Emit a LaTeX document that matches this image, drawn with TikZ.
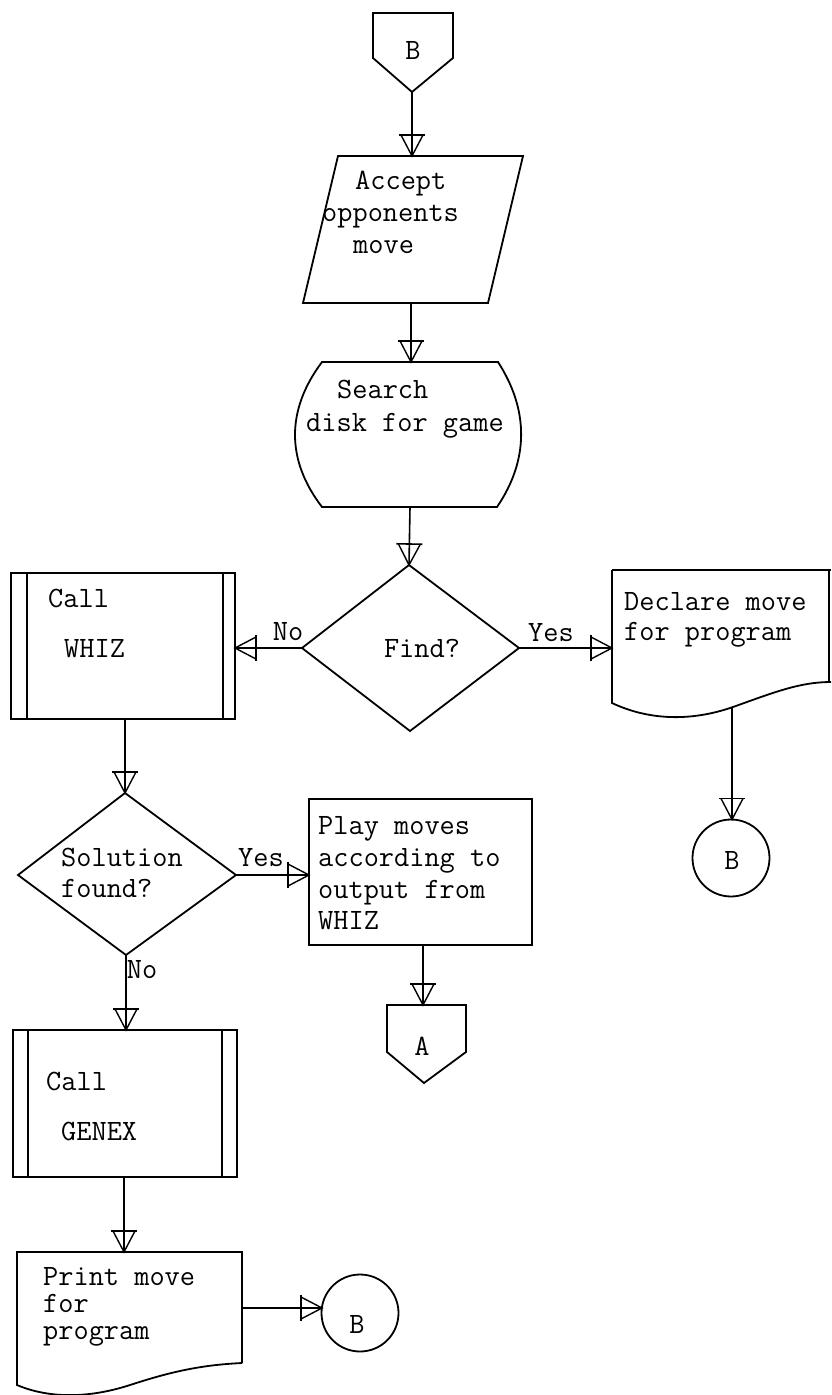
\documentclass[tikz,border=0pt]{standalone}
\usepackage{fontspec}
\usetikzlibrary{decorations.markings}
\begin{document}
\begin{tikzpicture}[x=1pt,y=-1pt,
  shp/.style={line width=1.8pt, line join=miter},
  conn/.style={line width=1.6pt,
    postaction={decorate,decoration={markings,mark=at position 1 with {
      \draw[line width=1.4pt,line join=miter] (-21pt,-11pt) -- (0pt,0pt) -- (-21pt,11pt);
      \draw[line width=1.6pt] (-21pt,-13pt) -- (-21pt,13pt);}}}},
  txt/.style={anchor=base west, inner sep=0pt, font=\fontsize{29.5}{32}\selectfont\ttfamily\addfontfeatures{FakeBold=1.2}},
  ctxt/.style={anchor=center, inner sep=0pt, font=\fontsize{29.5}{32}\selectfont\ttfamily\addfontfeatures{FakeBold=1.2}}]
\useasboundingbox (0,0) rectangle (831,1395);
\fill[white] (0,0) rectangle (831,1395);

% top off-page connector B
\draw[shp] (373,13) -- (453,13) -- (453,58) -- (412,92) -- (373,58) -- cycle;
\node[ctxt] (tB) at (413,50) {B};
\coordinate (tB-s) at (412,92);

% parallelogram
\draw[shp] (338,156) -- (523,156) -- (488,303) -- (303,303) -- cycle;
\coordinate (par-n) at (412,156);
\coordinate (par-s) at (411,303);
\node[txt] (p1) at (355,189) {Accept};
\node[txt] (p2) at (322,221) {opponents};
\node[txt] (p3) at (353,253) {move};

% search disk (curved sides)
\draw[shp] (322,362) -- (498,362) .. controls (529,410) and (529,460) .. (497,507)
  -- (322,507) .. controls (286,460) and (286,410) .. cycle;
\coordinate (srch-n) at (411,362);
\coordinate (srch-s) at (410,507);
\node[txt] (s1) at (337,398) {Search};
\node[txt] (s2) at (306,431) {disk for game};

% Find? diamond
\draw[shp] (409,565) -- (519,648) -- (410,731) -- (302,648) -- cycle;
\coordinate (fd-n) at (409,565);
\coordinate (fd-w) at (302,648);
\coordinate (fd-e) at (519,648);
\node[ctxt] (fdt) at (422,648) {Find?};
\node[ctxt] (no1) at (288,632) {No};
\node[ctxt] (yes1) at (551,633) {Yes};

% Call WHIZ
\draw[shp] (11,573) rectangle (235,719);
\draw[shp] (27,573) -- (27,719);
\draw[shp] (223,573) -- (223,719);
\coordinate (wz-e) at (235,648);
\coordinate (wz-s) at (125,719);
\node[txt] (w1) at (48,607) {Call};
\node[txt] (w2) at (64,657) {WHIZ};

% Declare move document
\draw[shp] (612,570) -- (612,703)
  .. controls (648,720) and (690,722) .. (733,707)
  .. controls (775,692) and (800,682) .. (831,682);
\draw[shp] (612,570) -- (831,570);
\draw[shp] (829,570) -- (829,682);
\coordinate (dc-w) at (612,648);
\coordinate (dc-s) at (732,708);
\node[txt] (d1) at (624,610) {Declare move};
\node[txt] (d2) at (624,640) {for program};

% circle B right
\draw[shp] (731,858) circle[radius=38.5pt];
\node[ctxt] (cB1) at (732,860) {B};
\coordinate (cB1-n) at (732,819.5);

% Solution found? diamond
\draw[shp] (125,793) -- (236,875) -- (126,955) -- (18,875) -- cycle;
\coordinate (sl-n) at (125,793);
\coordinate (sl-e) at (236,875);
\coordinate (sl-s) at (126,955);
\node[txt] (sl1) at (61,866) {Solution};
\node[txt] (sl2) at (61,897) {found?};
\node[ctxt] (yes2) at (261,858) {Yes};
\node[ctxt] (no2) at (142,970) {No};

% Play moves box
\draw[shp] (309,799) rectangle (532,945);
\coordinate (pl-w) at (309,875);
\coordinate (pl-s) at (423,945);
\node[txt] (pl1) at (318,834) {Play moves};
\node[txt] (pl2) at (318,866) {according to};
\node[txt] (pl3) at (318,898) {output from};
\node[txt] (pl4) at (318,929) {WHIZ};

% off-page connector A
\draw[shp] (387,1005) -- (466,1005) -- (466,1052) -- (424,1083) -- (387,1052) -- cycle;
\coordinate (A-n) at (423,1005);
\node[ctxt] (At) at (422,1046) {A};

% Call GENEX
\draw[shp] (13,1030) rectangle (237,1177);
\draw[shp] (28,1030) -- (28,1177);
\draw[shp] (222,1030) -- (222,1177);
\coordinate (gx-n) at (126,1030);
\coordinate (gx-s) at (124,1177);
\node[txt] (g1) at (46,1090) {Call};
\node[txt] (g2) at (61,1140) {GENEX};

% Print move document
\draw[shp] (242,1363) -- (242,1252) -- (17,1252) -- (17,1385)
  .. controls (50,1399) and (90,1398) .. (130,1385)
  .. controls (170,1372) and (200,1365) .. (242,1363);
\coordinate (pr-n) at (124,1252);
\coordinate (pr-e) at (242,1308);
\node[txt] (pr1) at (43,1285) {Print move};
\node[txt] (pr2) at (43,1312) {for};
\node[txt] (pr3) at (43,1339) {program};

% circle B bottom
\draw[shp] (360,1313) circle[radius=38.5pt];
\node[ctxt] (cB2) at (357,1324) {B};
\coordinate (cB2-w) at (322,1308);

% connectors
\draw[conn] (tB-s) -- (par-n);
\draw[conn] (par-s) -- (srch-n);
\draw[conn] (srch-s) -- (fd-n);
\draw[conn] (fd-w) -- (wz-e);
\draw[conn] (fd-e) -- (dc-w);
\draw[conn] (wz-s) -- (sl-n);
\draw[conn] (dc-s) -- (cB1-n);
\draw[conn] (sl-e) -- (pl-w);
\draw[conn] (sl-s) -- (gx-n);
\draw[conn] (pl-s) -- (A-n);
\draw[conn] (gx-s) -- (pr-n);
\draw[conn] (pr-e) -- (cB2-w);
\end{tikzpicture}
\end{document}
